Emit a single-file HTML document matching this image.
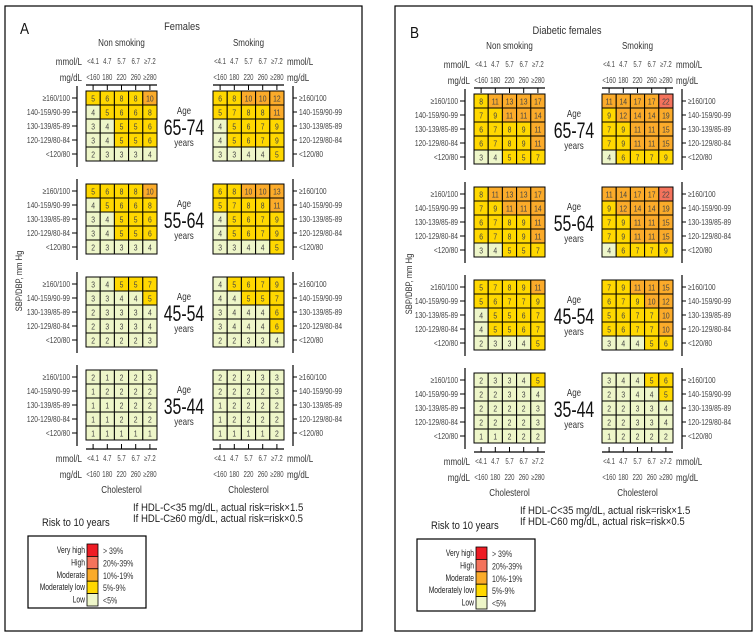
<!DOCTYPE html>
<html><head><meta charset="utf-8"><style>
body{margin:0;background:#fff}
svg{display:block;font-family:"Liberation Sans",sans-serif}
</style></head><body>
<svg id="chart" width="755" height="635" viewBox="0 0 755 635" xmlns="http://www.w3.org/2000/svg"></svg>
<script>
const bpLabels = ["≥160/100","140-159/90-99","130-139/85-89","120-129/80-84","<120/80"];
const mmolLabels = ["<4.1","4.7","5.7","6.7","≥7.2"];
const mgLabels = ["<160","180","220","260","≥280"];
const ageGroups = ["65-74","55-64","45-54","35-44"];
// Panel A: Females
const aNonSmoking = [
 [[5,6,8,8,10],[4,5,6,6,8],[3,4,5,5,6],[3,4,5,5,6],[2,3,3,3,4]],
 [[5,6,8,8,10],[4,5,6,6,8],[3,4,5,5,6],[3,4,5,5,6],[2,3,3,3,4]],
 [[3,4,5,5,7],[3,3,4,4,5],[2,3,3,3,4],[2,3,3,3,4],[2,2,2,2,3]],
 [[2,1,2,2,3],[1,2,2,2,2],[1,1,2,2,2],[1,1,2,2,2],[1,1,1,1,1]]
];
const aSmoking = [
 [[6,8,10,10,12],[5,7,8,8,11],[4,5,6,7,9],[4,5,6,7,9],[3,3,4,4,5]],
 [[6,8,10,10,13],[5,7,8,8,11],[4,5,6,7,9],[4,5,6,7,9],[3,3,4,4,5]],
 [[4,5,6,7,9],[4,4,5,5,7],[3,4,4,4,6],[3,4,4,4,6],[2,2,3,3,4]],
 [[2,2,2,3,3],[2,2,2,2,3],[1,2,2,2,2],[1,2,2,2,2],[1,1,1,1,2]]
];
// Panel B: Diabetic females
const bNonSmoking = [
 [[8,11,13,13,17],[7,9,11,11,14],[6,7,8,9,11],[6,7,8,9,11],[3,4,5,5,7]],
 [[8,11,13,13,17],[7,9,11,11,14],[6,7,8,9,11],[6,7,8,9,11],[3,4,5,5,7]],
 [[5,7,8,9,11],[5,6,7,7,9],[4,5,5,6,7],[4,5,5,6,7],[2,3,3,4,5]],
 [[2,3,3,4,5],[2,2,3,3,4],[2,2,2,2,3],[2,2,2,2,3],[1,1,2,2,2]]
];
const bSmoking = [
 [[11,14,17,17,22],[9,12,14,14,19],[7,9,11,11,15],[7,9,11,11,15],[4,6,7,7,9]],
 [[11,14,17,17,22],[9,12,14,14,19],[7,9,11,11,15],[7,9,11,11,15],[4,6,7,7,9]],
 [[7,9,11,11,15],[6,7,9,10,12],[5,6,7,7,10],[5,6,7,7,10],[3,4,4,5,6]],
 [[3,4,4,5,6],[2,3,4,4,5],[2,2,3,3,4],[2,2,3,3,4],[1,2,2,2,2]]
];
const legendNames = ["Very high","High","Moderate","Moderately low","Low"];
const legendRanges = ["> 39%","20%-39%","10%-19%","5%-9%","<5%"];
const legendColors = ["#ee1c24","#f4735c","#fbab2a","#ffd800","#eef6c9"];

const NS="http://www.w3.org/2000/svg";
const svg=document.getElementById('chart');
function el(tag,attrs,parent,text){const e=document.createElementNS(NS,tag);for(const k in attrs)e.setAttribute(k,attrs[k]);if(text!==undefined)e.textContent=text;(parent||svg).appendChild(e);return e;}
function T(parent,x,y,size,anchor,text,sx,fill){
  return el('text',{x:0,y:0,'font-size':size,fill:fill||'#444','text-anchor':anchor,transform:`translate(${x},${y}) scale(${sx},1)`},parent,text);
}
function colorFor(v){return v>39?legendColors[0]:v>=20?legendColors[1]:v>=10?legendColors[2]:v>=5?legendColors[3]:legendColors[4];}

function panel(cfg){
  const g=el('g',{});
  
  
  const b=el('rect',{x:cfg.bx,y:6,width:357,height:625,fill:'none',stroke:'#000','stroke-width':1.2},g);
  
  let t=T(g,cfg.bx+15,cfg.letterY,16,'start',cfg.letter,0.85,'#111');
  
  t=T(g,cfg.titleX,cfg.letterY-4,11,'middle',cfg.title,0.85,'#333');
  
  const cw=(cfg.gw)/5, ch=14;
  const grids=[{x:cfg.nsx,data:cfg.ns,side:'left',label:'Non smoking'},{x:cfg.sx,data:cfg.s,side:'right',label:'Smoking'}];
  const topAxisY=cfg.top[0]-6;
  grids.forEach(gr=>{
    const cx=gr.x+cfg.gw/2;
    let tt=T(g,cx,topAxisY-39,10,'middle',gr.label,0.8,'#333');
    
    el('line',{x1:gr.x,x2:gr.x+cfg.gw,y1:topAxisY,y2:topAxisY,stroke:'#000','stroke-width':1.2},g);
    const botY=cfg.top[3]+70+9;
    el('line',{x1:gr.x,x2:gr.x+cfg.gw,y1:botY,y2:botY,stroke:'#000','stroke-width':1.2},g);
    for(let i=0;i<5;i++){
      const x=gr.x+cw*(i+0.5);
      el('line',{x1:x,x2:x,y1:topAxisY,y2:topAxisY+5,stroke:'#000'},g);
      el('line',{x1:x,x2:x,y1:botY,y2:botY-5,stroke:'#000'},g);
      let m=T(g,x,topAxisY-21,8,'middle',mmolLabels[i],0.75);
      
      m=T(g,x,topAxisY-5,8,'middle',mgLabels[i],0.75);
      
      m=T(g,x,botY+12,8,'middle',mmolLabels[i],0.75);
      
      m=T(g,x,botY+28,8,'middle',mgLabels[i],0.75);
      
    }
    const ua=gr.side==='left'?'end':'start';
    const unitX=gr.side==='left'?gr.x-4:gr.x+cfg.gw+3;
    [['mmol/L',topAxisY-20],['mg/dL',topAxisY-4],['mmol/L',botY+13],['mg/dL',botY+29]].forEach(u=>{
      const ut=T(g,unitX,u[1],10,ua,u[0],0.8,'#333');
      
    });
    tt=T(g,cx,botY+44,10,'middle','Cholesterol',0.8,'#333');
    
    cfg.top.forEach((ty,ai)=>{
      const ax=gr.side==='left'?gr.x-9:gr.x+cfg.gw+9;
      el('line',{x1:ax,x2:ax,y1:ty-5,y2:ty+76,stroke:'#000','stroke-width':1.2},g);
      for(let r=0;r<5;r++){
        const y=ty+ch*(r+0.5);
        el('line',{x1:ax,x2:gr.side==='left'?ax-5:ax+4,y1:y,y2:y,stroke:'#000'},g);
        const lt=T(g,gr.side==='left'?ax-7:ax+6,y+3,8.5,ua,bpLabels[r],0.78);
        
        for(let c=0;c<5;c++){
          const v=gr.data[ai][r][c];
          const rc=el('rect',{x:gr.x+cw*c,y:ty+ch*r,width:cw,height:ch,fill:colorFor(v),stroke:'#000','stroke-width':1},g);
          
          
          const vt=T(g,gr.x+cw*(c+0.5),ty+ch*r+10.5,8.5,'middle',v,0.8);
          
          
        }
      }
    });
  });
  cfg.top.forEach((ty,ai)=>{
    let a=T(g,cfg.ageX,ty+23,10,'middle','Age',0.8,'#333');
    
    a=T(g,cfg.ageX,ty+44,22,'middle',ageGroups[ai],0.72,'#111');
    
    a=T(g,cfg.ageX,ty+55,10,'middle','years',0.8,'#333');
    
  });
  let yl=el('text',{x:0,y:0,'font-size':9.5,fill:'#333','text-anchor':'middle',transform:`translate(${cfg.bx+17},${cfg.top[1]+97}) rotate(-90) scale(0.8,1)`},g,'SBP/DBP, mm Hg');
  
  cfg.hdl.forEach((s,i)=>{
    const h=T(g,cfg.hdlX,cfg.hdlY+i*11,11,'start',s,0.87,'#222');
    
  });
  let rt=T(g,cfg.lx+14,cfg.ly-10,11,'start','Risk to 10 years',0.86,'#222');
  
  const lb=el('rect',{x:cfg.lx,y:cfg.ly,width:118,height:72,fill:'#fff',stroke:'#000','stroke-width':1.2},g);
  
  legendNames.forEach((n,i)=>{
    const y=cfg.ly+8+i*12.4;
    const sw=el('rect',{x:cfg.lx+59,y:y,width:11,height:12.4,fill:legendColors[i],stroke:'#000','stroke-width':0.8},g);
    
    let lt=T(g,cfg.lx+57,y+9,9,'end',n,0.75,'#222');
    
    lt=T(g,cfg.lx+75,y+10,9,'start',legendRanges[i],0.78,'#333');
    
  });
}
panel({name:'panel-a-females',bx:5,letter:'A',letterY:34,title:'Females',titleX:182,gw:71,nsx:86,sx:213,ageX:184,top:[91,184,277,370],
  ns:aNonSmoking,s:aSmoking,hdl:['If HDL-C<35 mg/dL, actual risk=risk×1.5','If HDL-C≥60 mg/dL, actual risk=risk×0.5'],hdlX:133,hdlY:511,lx:28,ly:536});
panel({name:'panel-b-diabetic-females',bx:395,letter:'B',letterY:38,title:'Diabetic females',titleX:567,gw:71,nsx:474,sx:602,ageX:574,top:[94,187,280,373],
  ns:bNonSmoking,s:bSmoking,hdl:['If HDL-C<35 mg/dL, actual risk=risk×1.5','If HDL-C60 mg/dL, actual risk=risk×0.5'],hdlX:520,hdlY:514,lx:417,ly:539});
</script>
</body></html>
